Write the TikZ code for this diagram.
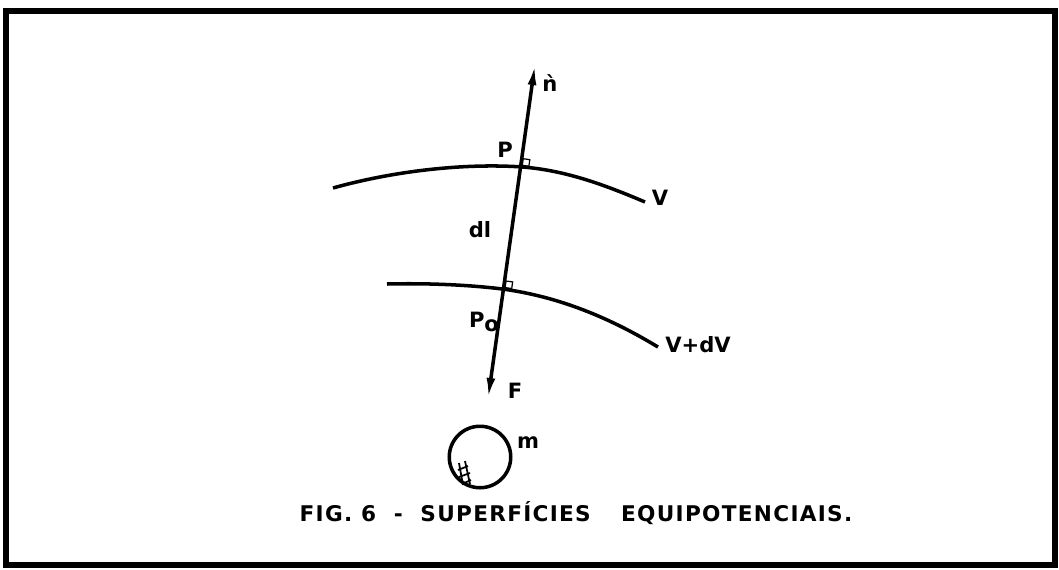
\documentclass[tikz,border=0pt]{standalone}
\usepackage{fontspec}
\setmainfont{DejaVu Sans}
\newfontfamily\capfont[LetterSpace=6]{DejaVu Sans}
\usetikzlibrary{arrows.meta,calc}

\begin{document}
\begin{tikzpicture}[x=.02cm, y=-.02cm, font=\fontsize{12}{14}\selectfont\bfseries,
    >={Latex[length=12pt,width=5pt]}, line width=2pt]
    \useasboundingbox (0,0) rectangle (1059,569);
    \draw[line width=3.6pt] (6,11) rectangle (1055,565);
    \coordinate (ntip) at (535,64);
    \coordinate (Ftip) at (488,399);
    \coordinate (P) at ($(ntip)!.307!(Ftip)$);
    \coordinate (Po) at ($(ntip)!.672!(Ftip)$);
    \draw[<->] (ntip) -- (Ftip);
    \draw (333,188) .. controls (390,172) and (460,163) .. (P)
      .. controls (565,170) and (605,185) .. (645,202);
    \draw (387,284) .. controls (430,283) and (470,285) .. (Po)
      .. controls (560,297) and (610,318) .. (658,347);
    \foreach \c in {P,Po}
      \node[draw, line width=.7pt, minimum size=3.8pt, inner sep=0pt, anchor=south west,
        rotate=-8] (sq\c) at ($(\c)+(1,-1)$) {};
    \node (lbn) at (550,83) {\`n};
    \node (lbP) at (505,150) {P};
    \node (lbdl) at (480,230) {dl};
    \node (lbV) at (660,198) {V};
    \node (lbPo) at (484,322) {P\raisebox{-.35ex}{o}};
    \node (lbVdV) at (698,345) {V+dV};
    \node (lbF) at (515,391) {F};
    \node[draw, circle, minimum size=35pt, inner sep=0pt] (mass) at (480,457) {};
    \node (lbm) at (528,443) {m};
    \draw[line width=1pt] (459,463) -- (463,485) (465,461) -- (470,484)
      (458,470) -- (468,466) (459,477) -- (470,473) (462,484) -- (471,480);
    \node (cap) at (576,513) {\capfont\fontsize{12.3}{15}\selectfont\bfseries
      FIG. 6 \ - \ SUPERFÍCIES \quad EQUIPOTENCIAIS.};
\end{tikzpicture}
\end{document}
